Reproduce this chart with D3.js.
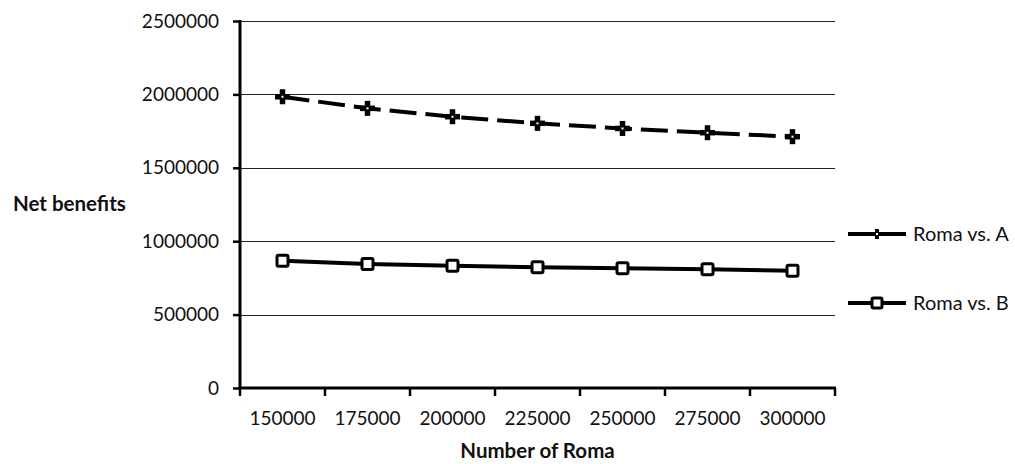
<!DOCTYPE html>
<html>
<head>
<meta charset="utf-8">
<script src="https://cdn.jsdelivr.net/npm/d3@7"></script>
<style>
  html, body { margin: 0; padding: 0; background: #fff; }
  svg { display: block; font-family: Lato, "Open Sans", sans-serif; }
</style>
</head>
<body>
<svg id="chart" width="1015" height="464"></svg>
<script>
const categories = ["150000", "175000", "200000", "225000", "250000", "275000", "300000"];
const seriesNames = ["Roma vs. A", "Roma vs. B"];
const romaVsA = [1984000, 1905000, 1848000, 1803000, 1768000, 1739000, 1712000];
const romaVsB = [867000, 845000, 833000, 822000, 815000, 809000, 799000];
const yTicks = [0, 500000, 1000000, 1500000, 2000000, 2500000];
const yLabel = "Net benefits";
const xLabel = "Number of Roma";

(function () {
const svg = d3.select("#chart");
const pL = 240, pR = 835, pT = 21, pB = 388;
const FS = 19;

const x = d3.scaleBand().domain(categories).range([pL, pR]).padding(0);
const y = d3.scaleLinear().domain([0, 2500000]).range([pB, pT]);

// gridlines
svg.append("g").selectAll("line")
  .data(yTicks.filter(d => d > 0))
  .join("line")
  .attr("x1", pL).attr("x2", pR)
  .attr("y1", d => Math.round(y(d)) + 0.5).attr("y2", d => Math.round(y(d)) + 0.5)
  .attr("stroke", "#222").attr("stroke-width", 1.2);

// y axis
const yAxis = d3.axisLeft(y).tickValues(yTicks).tickSize(7).tickPadding(14).tickFormat(d3.format("d"));
const gy = svg.append("g").attr("transform", `translate(${pL},0)`).call(yAxis);
gy.select(".domain").remove();
gy.selectAll(".tick line").attr("stroke", "#000").attr("stroke-width", 2.5);
gy.selectAll(".tick text").attr("font-size", FS).attr("fill", "#111").attr("font-family", "Lato, sans-serif");
svg.append("line").attr("x1", pL).attr("x2", pL).attr("y1", pT - 1).attr("y2", pB + 1)
  .attr("stroke", "#000").attr("stroke-width", 3);

// x axis
const xAxis = d3.axisBottom(x).tickSize(0).tickPadding(24);
const gx = svg.append("g").attr("transform", `translate(0,${pB})`).call(xAxis);
gx.select(".domain").remove();
gx.selectAll(".tick text").attr("font-size", FS).attr("fill", "#111").attr("font-family", "Lato, sans-serif");
const boundaries = categories.map(c => x(c)).concat([x(categories[categories.length - 1]) + x.bandwidth()]);
svg.append("g").selectAll("line").data(boundaries).join("line")
  .attr("x1", d => d).attr("x2", d => d).attr("y1", pB).attr("y2", pB + 8)
  .attr("stroke", "#000").attr("stroke-width", 2.5);
svg.append("line").attr("x1", pL - 1.5).attr("x2", pR + 1).attr("y1", pB).attr("y2", pB)
  .attr("stroke", "#000").attr("stroke-width", 3);

// axis titles
svg.append("text").attr("x", 13).attr("y", 211).attr("font-size", 20.5).attr("font-weight", "bold")
  .attr("fill", "#111").text(yLabel);
svg.append("text").attr("x", (pL + pR) / 2).attr("y", 458).attr("text-anchor", "middle")
  .attr("font-size", 20.5).attr("font-weight", "bold").attr("fill", "#111").text(xLabel);

const cx = d => x(d) + x.bandwidth() / 2;
const line = d3.line().x((d, i) => cx(categories[i])).y(d => y(d));

// series A
svg.append("path").datum(romaVsA).attr("d", line)
  .attr("fill", "none").attr("stroke", "#000").attr("stroke-width", 4)
  .attr("stroke-dasharray", "27,9");
// series B
svg.append("path").datum(romaVsB).attr("d", line)
  .attr("fill", "none").attr("stroke", "#000").attr("stroke-width", 4);

function plusMarker(g, px, py, half, arm) {
  g.append("rect").attr("x", px - half).attr("y", py - arm / 2).attr("width", half * 2).attr("height", arm).attr("fill", "#000");
  g.append("rect").attr("x", px - arm / 2).attr("y", py - half).attr("width", arm).attr("height", half * 2).attr("fill", "#000");
  g.append("rect").attr("x", px - 1).attr("y", py - 1).attr("width", 2).attr("height", 2).attr("fill", "#fff");
}
function squareMarker(g, px, py, s) {
  g.append("rect").attr("x", px - s / 2).attr("y", py - s / 2).attr("width", s).attr("height", s).attr("rx", 1.5)
    .attr("fill", "#fff").attr("stroke", "#000").attr("stroke-width", 3);
}

const gm = svg.append("g");
romaVsA.forEach((v, i) => plusMarker(gm, cx(categories[i]), y(v), 7.5, 5.5));
romaVsB.forEach((v, i) => squareMarker(gm, cx(categories[i]), y(v), 11));

// legend
const legY = [234, 303];
const lg = svg.append("g");
seriesNames.forEach((name, i) => {
  lg.append("line").attr("x1", 848).attr("x2", 906).attr("y1", legY[i]).attr("y2", legY[i])
    .attr("stroke", "#000").attr("stroke-width", 4);
  if (i === 0) plusMarker(lg, 877, legY[i], 5, 4);
  else squareMarker(lg, 877, legY[i], 10);
  lg.append("text").attr("x", 913).attr("y", legY[i] + 7).attr("font-size", 20).attr("fill", "#111").text(name);
});
})();
</script>
</body>
</html>
